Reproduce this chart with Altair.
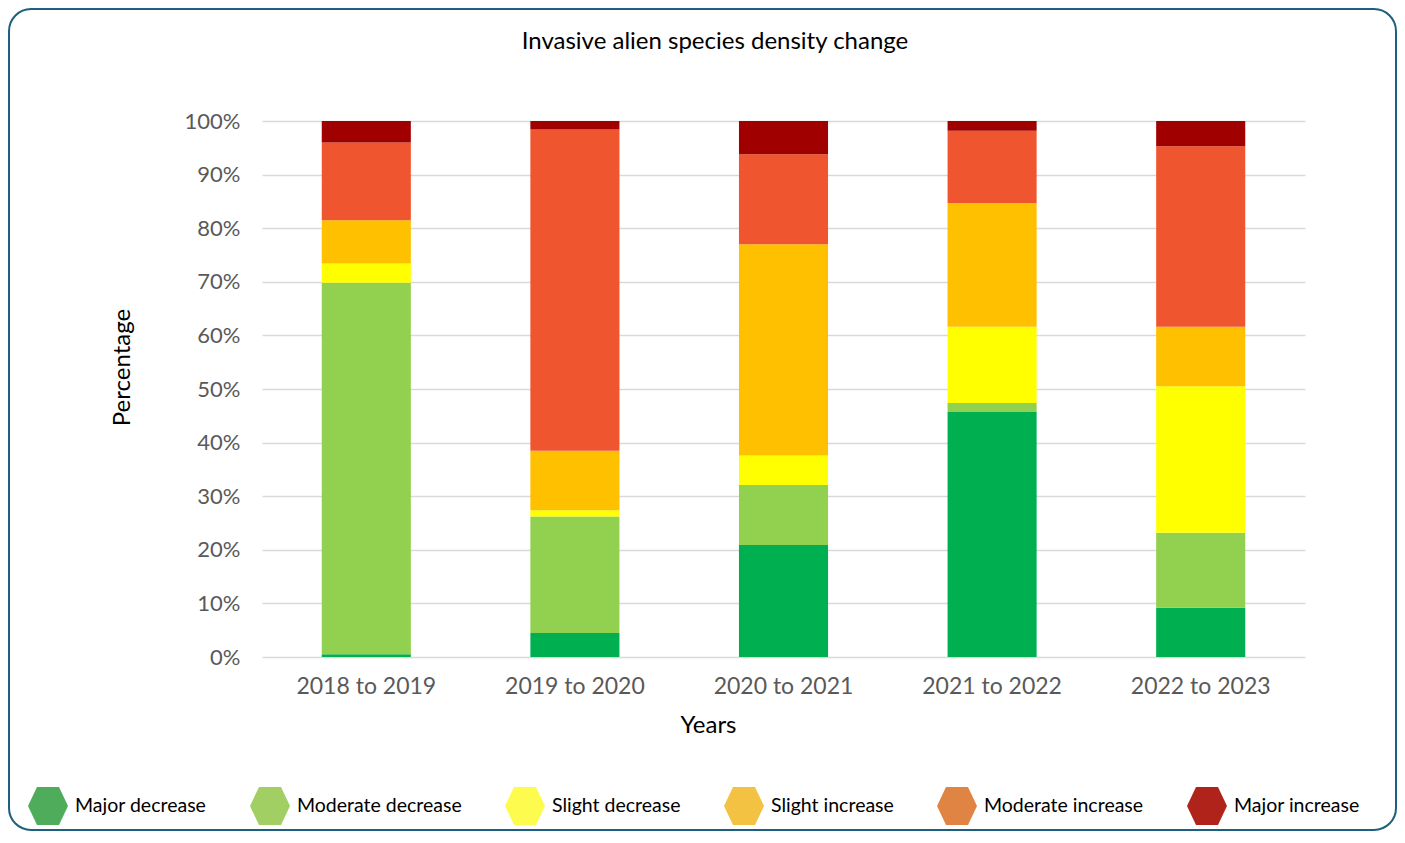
import altair as alt
import pandas as pd

# ---- data ----
years = ["2018 to 2019", "2019 to 2020", "2020 to 2021", "2021 to 2022", "2022 to 2023"]
categories = ["Major decrease", "Moderate decrease", "Slight decrease",
              "Slight increase", "Moderate increase", "Major increase"]

major_decrease = [0.5, 4.5, 20.9, 45.7, 9.2]
moderate_decrease = [69.3, 21.7, 11.2, 1.7, 14.0]
slight_decrease = [3.6, 1.2, 5.5, 14.2, 27.3]
slight_increase = [8.1, 11.1, 39.4, 23.1, 11.1]
moderate_increase = [14.5, 59.9, 16.8, 13.5, 33.7]
major_increase = [4.0, 1.6, 6.2, 1.8, 4.7]

y_ticks = [0, 10, 20, 30, 40, 50, 60, 70, 80, 90, 100]

bar_colors = ["#00B050", "#92D050", "#FFFF00", "#FFC000", "#EF5630", "#A00000"]
legend_colors = ["#4EAC5B", "#A1CF63", "#FDFB4D", "#F3C243", "#E08444", "#B0231A"]

series = [major_decrease, moderate_decrease, slight_decrease,
          slight_increase, moderate_increase, major_increase]

rows = []
for ci, (cat, vals) in enumerate(zip(categories, series)):
    for y, v in zip(years, vals):
        rows.append({"Year": y, "Category": cat, "Value": v, "Order": ci})
df = pd.DataFrame(rows)

FONT = "Lato"
hexagon = "M-1,0L-0.55,-0.95L0.55,-0.95L1,0L0.55,0.95L-0.55,0.95Z"

x_enc = alt.X("Year:N", sort=years,
              scale=alt.Scale(paddingInner=0.573, paddingOuter=0.2865),
              axis=alt.Axis(title="Years", labelAngle=0, labelFontSize=23, labelColor="#595959",
                            labelFont=FONT, labelPadding=18, ticks=False, domain=False,
                            titleFont=FONT, titleFontSize=24, titleFontWeight="normal",
                            titleColor="#000000", titleX=446, titleY=68,
                            titleAlign="center", titleBaseline="middle"))

bars = alt.Chart(df).mark_bar().encode(
    x=x_enc,
    y=alt.Y("Value:Q", stack="zero",
            scale=alt.Scale(domain=[0, 100], nice=False),
            axis=alt.Axis(title="Percentage", values=y_ticks, labelExpr="datum.value + '%'",
                          labelFontSize=22, labelColor="#595959", labelFont=FONT,
                          labelPadding=22, ticks=False, domain=False,
                          gridColor="#D9D9D9", gridWidth=1.6,
                          titleFont=FONT, titleFontSize=24, titleFontWeight="normal",
                          titleColor="#000000", titleX=-140, titleY=246, titleAngle=270,
                          titleAlign="center", titleBaseline="middle")),
    color=alt.Color("Category:N", sort=categories,
                    scale=alt.Scale(domain=categories, range=bar_colors), legend=None),
    order=alt.Order("Order:Q", sort="ascending"),
)

legend_layer = alt.Chart(df).mark_point(filled=True, opacity=0).encode(
    x=alt.X("Year:N", sort=years),
    y=alt.Y("Value:Q"),
    fill=alt.Fill("Category:N", sort=categories,
                  scale=alt.Scale(domain=categories, range=legend_colors),
                  legend=alt.Legend(title=None, orient="none", legendX=-234, legendY=665,
                                    direction="horizontal", columns=6, columnPadding=43,
                                    symbolType=hexagon, symbolSize=1600, symbolStrokeWidth=0,
                                    symbolOpacity=1, labelFontSize=19.5, labelFont=FONT,
                                    labelColor="#000000", labelOffset=7, labelLimit=400,
                                    padding=0)),
)

one = pd.DataFrame({"k": [0]})
border = alt.Chart(one).mark_rect(fillOpacity=0, stroke="#1D5F7E", strokeWidth=2,
                                   cornerRadius=22).encode(
    x=alt.value(-253), x2=alt.value(1134), y=alt.value(-112), y2=alt.value(709))

title = alt.Chart(one).mark_text(text="Invasive alien species density change", fontSize=24,
                                  font=FONT, color="#000000", baseline="middle",
                                  align="center").encode(
    x=alt.value(453), y=alt.value(-79))

chart = alt.layer(border, bars, legend_layer, title).resolve_scale(
    fill="independent"
).properties(
    width=1043, height=536,
    autosize=alt.AutoSizeParams(type="none"),
    padding={"left": 254, "top": 113, "right": 92, "bottom": 175},
    background="#FFFFFF",
).configure_view(stroke=None)

chart.save("out.html", embed_options={"renderer": "svg", "actions": False})
